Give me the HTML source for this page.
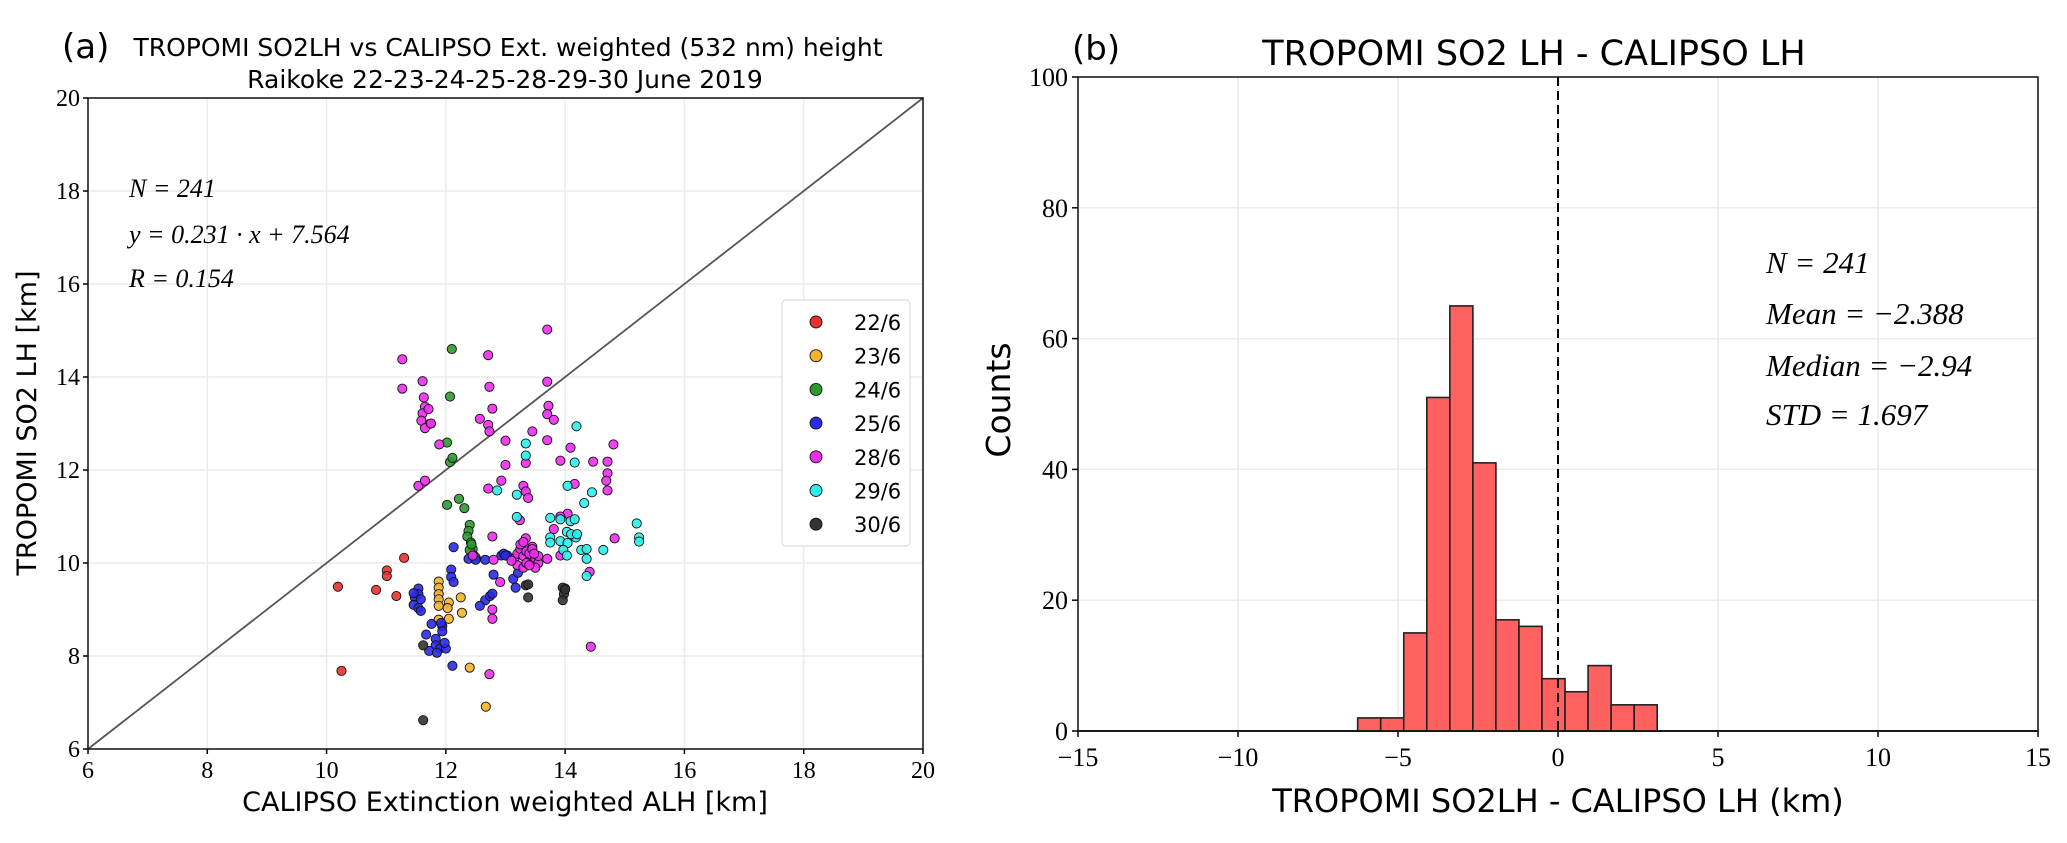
<!DOCTYPE html>
<html><head><meta charset="utf-8"><style>
body{margin:0;background:#fff}
svg text{font-family:"Liberation Serif",serif}
.sans{font-family:"DejaVu Sans","Liberation Sans",sans-serif}
</style></head><body>
<svg id="fig" width="2067" height="838" viewBox="0 0 2067 838" xmlns="http://www.w3.org/2000/svg">
<rect width="2067" height="838" fill="#fff"/>
<g id="pa"></g>
<g id="pb"></g>
</svg>
<script>
const NS="http://www.w3.org/2000/svg";
// ---- Panel (a) data ----
const days=["22/6","23/6","24/6","25/6","28/6","29/6","30/6"];
const dayColors=["#e8312b","#f5b229","#2e9a2e","#2a2ae8","#f02cf0","#2cf0ec","#333333"];
const d22x=[10.19,10.25,10.83,11.01,11.01,11.17,11.3];
const d22y=[9.49,7.68,9.42,9.84,9.72,9.29,10.11];
const d23x=[11.88,11.88,11.88,11.88,11.88,11.88,12.05,12.03,12.25,12.27,12.4,12.67,12.05];
const d23y=[9.6,9.47,9.33,9.22,9.08,8.78,9.15,9.03,9.26,8.93,7.75,6.91,8.8];
const d24x=[12.1,12.07,12.02,12.07,12.11,12.02,12.22,12.31,12.4,12.38,12.36,12.42,12.45,12.4,12.47,12.5,12.43];
const d24y=[14.6,13.58,12.59,12.17,12.26,11.25,11.38,11.18,10.82,10.69,10.57,10.44,10.3,10.28,10.16,10.12,10.4];
const d25x=[11.54,11.54,11.48,11.58,11.46,11.54,11.58,11.46,11.76,11.94,11.92,11.94,11.67,11.83,11.83,11.9,11.72,11.85,12.0,11.98,12.11,12.13,12.09,12.09,12.13,12.66,12.66,12.8,12.74,12.57,12.78,12.93,12.97,13.03,13.13,13.17,13.21,13.0,12.38,12.5];
const d25y=[9.45,9.33,9.26,9.22,9.1,9.03,8.97,9.35,8.69,8.64,8.71,8.53,8.46,8.37,8.23,8.16,8.11,8.07,8.16,8.28,7.79,10.34,9.86,9.7,9.59,10.07,9.2,9.75,9.29,9.08,9.34,10.16,10.2,10.16,9.66,9.47,9.79,10.16,10.09,10.07];
const d28x=[11.27,11.27,11.61,11.63,11.65,11.61,11.59,11.71,11.73,11.65,11.75,11.89,11.54,11.65,12.71,12.73,12.78,12.71,12.73,12.57,13.7,13.7,13.72,13.7,13.81,13.45,13.7,13.0,13.0,12.93,12.71,13.3,13.34,13.38,13.34,13.92,14.09,14.16,14.47,14.71,14.71,14.69,14.71,14.81,14.83,14.04,13.92,13.81,13.7,13.92,12.78,12.8,12.91,12.78,12.78,12.73,14.43,14.41,14.0,13.24,13.34,12.45,
13.15,13.2,13.25,13.3,13.35,13.4,13.45,13.5,13.55,13.2,13.3,13.4,13.5,13.25,13.35,13.45,13.55,13.3,13.4,13.1,13.48];
const d28y=[14.38,13.75,13.91,13.56,13.36,13.22,13.06,13.31,12.99,12.9,13.0,12.55,11.66,11.77,14.47,13.79,13.32,12.97,12.83,13.1,15.02,13.9,13.38,13.2,13.08,12.83,12.64,12.63,12.11,11.77,11.6,11.66,11.54,11.4,12.15,12.2,12.48,11.7,12.18,12.18,11.93,11.77,11.56,12.55,10.53,11.06,11.0,10.73,10.09,10.16,10.57,10.07,9.59,9.0,8.8,7.61,8.2,9.81,9.45,10.92,10.53,10.16,
10.1,10.2,10.3,10.15,10.25,10.05,10.35,10.1,10.0,9.95,9.9,10.2,9.9,10.4,10.0,10.3,10.15,10.45,9.95,10.05,10.2];
const d29x=[13.34,13.34,13.19,12.86,13.19,13.75,13.75,13.75,13.92,14.03,14.09,14.16,14.18,13.92,14.04,14.1,13.97,14.03,14.19,14.16,14.04,14.32,14.45,14.27,14.36,14.36,14.36,14.64,15.2,15.24,15.24,14.2];
const d29y=[12.57,12.31,11.47,11.56,10.99,10.97,10.55,10.44,10.94,10.67,10.9,10.94,10.55,10.47,10.43,10.62,10.28,10.16,12.94,12.16,11.66,11.29,11.52,10.28,10.3,10.09,9.72,10.28,10.85,10.55,10.46,10.62];
const d30x=[11.62,11.62,13.34,13.38,13.38,13.96,13.98,13.96,14.0];
const d30y=[8.23,6.62,9.52,9.54,9.26,9.47,9.33,9.2,9.43];
const seriesX=[d22x,d23x,d24x,d25x,d28x,d29x,d30x];
const seriesY=[d22y,d23y,d24y,d25y,d28y,d29y,d30y];
const aTicks=[6,8,10,12,14,16,18,20];
// ---- Panel (b) data ----
const binStart=-6.26, binWidth=0.72;
const binCounts=[2,2,15,51,65,41,17,16,8,6,10,4,4];
const bxTicks=[-15,-10,-5,0,5,10,15];
const byTicks=[0,20,40,60,80,100];

function el(tag,attrs,parent,text){const e=document.createElementNS(NS,tag);for(const k in attrs)e.setAttribute(k,attrs[k]);if(text!==undefined)e.textContent=text;parent.appendChild(e);return e;}

// Panel a
const pa=document.getElementById('pa');
const AX0=88,AX1=923,AY0=749,AY1=98;
const ax=v=>AX0+(v-6)/14*(AX1-AX0);
const ay=v=>AY0-(v-6)/14*(AY0-AY1);
aTicks.forEach(t=>{
  const g1=el('line',{x1:ax(t),x2:ax(t),y1:AY1,y2:AY0,stroke:'#ebebeb','stroke-width':1.5},pa);
  
  const g2=el('line',{x1:AX0,x2:AX1,y1:ay(t),y2:ay(t),stroke:'#ebebeb','stroke-width':1.5},pa);
  
  el('line',{x1:ax(t),x2:ax(t),y1:AY0,y2:AY0+5,stroke:'#000','stroke-width':1.5},pa);
  el('line',{x1:AX0-5,x2:AX0,y1:ay(t),y2:ay(t),stroke:'#000','stroke-width':1.5},pa);
  const xl=el('text',{x:ax(t),y:AY0+29,'font-size':24,'text-anchor':'middle'},pa,t);
  
  const yl=el('text',{x:AX0-8,y:ay(t)+8,'font-size':24,'text-anchor':'end'},pa,t);
  
});
const diag=el('line',{x1:ax(6),y1:ay(6),x2:ax(20),y2:ay(20),stroke:'#555','stroke-width':1.8},pa);

seriesX.forEach((xs,i)=>{
  xs.forEach((x,j)=>{
    const c=el('circle',{cx:ax(x),cy:ay(seriesY[i][j]),r:4.6,fill:dayColors[i],stroke:'#111','stroke-width':0.9,'fill-opacity':0.9},pa);
    
    
  });
});
const fa=el('rect',{x:AX0,y:AY1,width:AX1-AX0,height:AY0-AY1,fill:'none',stroke:'#111','stroke-width':1.5},pa);

// legend
const lg=el('g',{},pa);
el('rect',{x:782,y:300,width:128,height:246,rx:4,fill:'#fff',stroke:'#ddd','stroke-width':1.2},lg);
days.forEach((d,i)=>{
  const y=322+i*33.7;
  const e=el('g',{},lg);
  el('circle',{cx:816,cy:y,r:6,fill:dayColors[i],stroke:'#111','stroke-width':0.9},e);
  el('text',{x:854,y:y+8,'font-size':21,class:'sans'},e,d);
});
// stats
[['N = 241',188],['y = 0.231 · x + 7.564',234],['R = 0.154',278]].forEach(s=>{
  const t=el('text',{x:129,y:s[1]+9,'font-size':26,'font-style':'italic'},pa,s[0]);
  
});
let t;
t=el('text',{x:62,y:58,'font-size':34,class:'sans'},pa,'(a)');
t=el('text',{x:508,y:56,'font-size':25,class:'sans','text-anchor':'middle'},pa,'TROPOMI SO2LH vs CALIPSO Ext. weighted (532 nm) height');
t=el('text',{x:505,y:88,'font-size':25,class:'sans','text-anchor':'middle'},pa,'Raikoke 22-23-24-25-28-29-30 June 2019');
t=el('text',{x:505,y:811,'font-size':27,class:'sans','text-anchor':'middle'},pa,'CALIPSO Extinction weighted ALH [km]');
t=el('text',{x:0,y:0,'font-size':27,class:'sans','text-anchor':'middle',transform:'translate(36,423) rotate(-90)'},pa,'TROPOMI SO2 LH [km]');

// Panel b
const pb=document.getElementById('pb');
const BX0=1078,BX1=2038,BY0=731,BY1=77;
const bx=v=>BX0+(v+15)/30*(BX1-BX0);
const by=v=>BY0-v/100*(BY0-BY1);
bxTicks.forEach(v=>{
  el('line',{x1:bx(v),x2:bx(v),y1:BY1,y2:BY0,stroke:'#ebebeb','stroke-width':1.5},pb);
  el('line',{x1:bx(v),x2:bx(v),y1:BY0,y2:BY0+6,stroke:'#000','stroke-width':1.5},pb);
  const l=el('text',{x:bx(v),y:BY0+35,'font-size':26,'text-anchor':'middle'},pb,v<0?'−'+Math.abs(v):v);
  
});
byTicks.forEach(v=>{
  el('line',{x1:BX0,x2:BX1,y1:by(v),y2:by(v),stroke:'#ebebeb','stroke-width':1.5},pb);
  el('line',{x1:BX0-6,x2:BX0,y1:by(v),y2:by(v),stroke:'#000','stroke-width':1.5},pb);
  const l=el('text',{x:BX0-10,y:by(v)+9,'font-size':26,'text-anchor':'end'},pb,v);
  
});
el('line',{x1:BX0,x2:BX1,y1:BY0,y2:BY0,stroke:'#333','stroke-width':2},pb);
binCounts.forEach((c,i)=>{
  const x0=binStart+i*binWidth;
  const r=el('rect',{x:bx(x0),y:by(c),width:bx(x0+binWidth)-bx(x0),height:by(0)-by(c),fill:'#ff6161',stroke:'#222','stroke-width':1.6},pb);
  
  
});
t=el('line',{x1:bx(0),x2:bx(0),y1:BY1,y2:BY0,stroke:'#000','stroke-width':2,'stroke-dasharray':'9,5'},pb);
t=el('rect',{x:BX0,y:BY1,width:BX1-BX0,height:BY0-BY1,fill:'none',stroke:'#111','stroke-width':1.5},pb);
[['N = 241',263],['Mean = −2.388',314],['Median = −2.94',366],['STD = 1.697',415]].forEach(s=>{
  const q=el('text',{x:1766,y:s[1]+10,'font-size':31,'font-style':'italic'},pb,s[0]);
  
});
t=el('text',{x:1072,y:60,'font-size':34,class:'sans'},pb,'(b)');
t=el('text',{x:1534,y:65,'font-size':35,class:'sans','text-anchor':'middle'},pb,'TROPOMI SO2 LH - CALIPSO LH');
t=el('text',{x:1558,y:812,'font-size':32,class:'sans','text-anchor':'middle'},pb,'TROPOMI SO2LH - CALIPSO LH (km)');
t=el('text',{x:0,y:0,'font-size':33,class:'sans','text-anchor':'middle',transform:'translate(1010,400) rotate(-90)'},pb,'Counts');
</script>
</body></html>
